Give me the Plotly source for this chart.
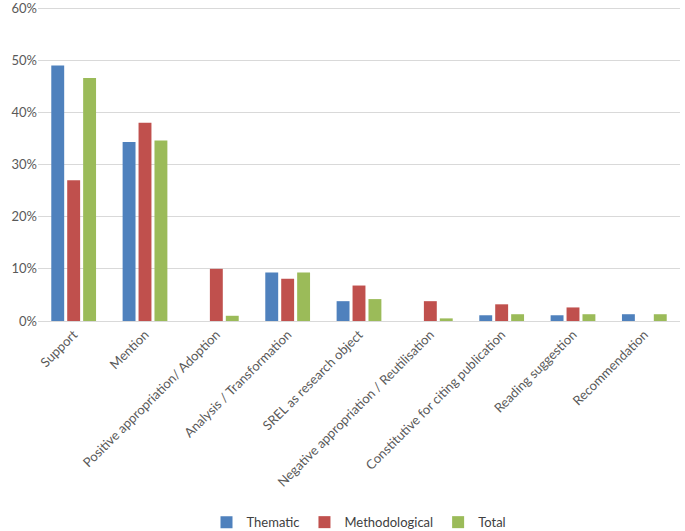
import plotly.graph_objects as go

categories = ["Support", "Mention", "Positive appropriation/ Adoption", "Analysis / Transformation",
              "SREL as research object", "Negative appropriation / Reutilisation",
              "Constitutive for citing publication", "Reading suggestion", "Recommendation"]
thematic = [49.0, 34.3, 0, 9.3, 3.8, 0, 1.1, 1.1, 1.3]
methodological = [27.0, 38.0, 10.0, 8.1, 6.8, 3.8, 3.2, 2.6, 0]
total = [46.6, 34.6, 1.0, 9.3, 4.2, 0.5, 1.3, 1.3, 1.3]
y_ticks = [0, 10, 20, 30, 40, 50, 60]
y_tick_labels = ["0%", "10%", "20%", "30%", "40%", "50%", "60%"]

series = [("Thematic", thematic, "#4F81BD"),
          ("Methodological", methodological, "#C0504D"),
          ("Total", total, "#9BBB59")]

fig = go.Figure()
for name, vals, col in series:
    fig.add_trace(go.Bar(x=categories, y=vals, name=name, marker_color=col,
                         marker_line_width=0))

fig.update_layout(
    width=685, height=531,
    margin=dict(l=38, r=5, t=7, b=210, autoexpand=False),
    paper_bgcolor="white", plot_bgcolor="white",
    barmode="group", bargap=0.33, bargroupgap=0.19,
    font=dict(family="Lato", size=12, color="#595959"),
    showlegend=True,
    legend=dict(orientation="h", x=0.5, xanchor="center", y=-0.593, yanchor="top",
                font=dict(size=13, color="#404040"), itemwidth=30, traceorder="normal"),
)
fig.update_xaxes(tickangle=-45, showline=True, linecolor="#D9D9D9", linewidth=1,
                 ticks="", automargin=False, tickfont=dict(family="Lato", size=13, color="#595959"))
fig.update_yaxes(range=[0, 60.2], tickvals=y_ticks, ticktext=y_tick_labels, showgrid=True,
                 gridcolor="#D9D9D9", gridwidth=1, zeroline=False, showline=False,
                 automargin=False, ticklabeloverflow="allow",
                 tickfont=dict(family="Lato", size=13, color="#595959"))
fig.write_html("out.html", config={"displayModeBar": False},
               post_script="document.body.style.margin='0';")
